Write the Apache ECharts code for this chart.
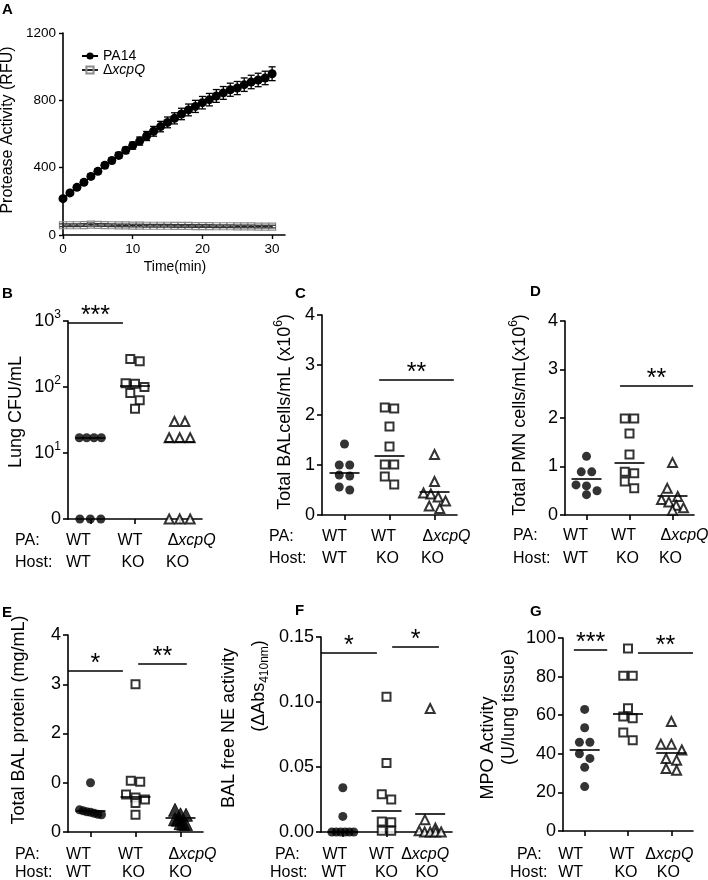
<!DOCTYPE html>
<html>
<head>
<meta charset="utf-8">
<script src="https://cdn.jsdelivr.net/npm/echarts@6.0.0/dist/echarts.min.js"></script>
<style>
html, body { margin: 0; padding: 0; background: #fff; }
#main { width: 708px; height: 880px; }
</style>
</head>
<body>
<div id="main"></div>
<script>
// ---- A: protease activity over time ----
var timeMin = [0, 1, 2, 3, 4, 5, 6, 7, 8, 9, 10, 11, 12, 13, 14, 15, 16, 17, 18, 19, 20, 21, 22, 23, 24, 25, 26, 27, 28, 29, 30];
var pa14 = [216, 250, 283, 313, 348, 378, 414, 442, 473, 503, 531, 558, 588, 616, 644, 669, 693, 719, 743, 764, 786, 804, 826, 844, 863, 873, 893, 909, 921, 933, 958];
var pa14Err = [10, 11, 12, 13, 14, 15, 16, 17, 18, 19, 21, 24, 27, 29, 31, 32, 33, 34, 35, 36, 37, 37, 38, 38, 39, 39, 40, 40, 40, 40, 41];
var xcpQ = [58, 58, 58, 59, 62, 60, 59, 58, 57, 57, 56, 56, 55, 55, 55, 55, 54, 54, 54, 53, 53, 53, 52, 52, 52, 51, 51, 51, 50, 50, 50];
var xcpQErr = [8, 8, 8, 8, 9, 8, 8, 8, 8, 8, 8, 8, 8, 8, 8, 8, 8, 8, 8, 8, 8, 8, 8, 8, 8, 8, 8, 8, 8, 8, 8];
var aTicksX = [0, 10, 20, 30];

// ---- groups (B-G) ----
var paLabels = ['WT', 'WT', 'ΔxcpQ'];
var hostLabels = ['WT', 'KO', 'KO'];

// B: lung CFU/mL (0 is plotted on the bottom line)
var bWT = [17, 17, 17, 17, 0, 0, 0];
var bKO = [265, 245, 114, 112, 100, 81, 63, 47];
var bXcpQ = [30, 30, 17, 17, 17, 0, 0, 0];
var bMedian = [17, 103, 15];
var bSig = [[0.5, 1.73, 933, '***'], [2.54, 3.75, 840, '***']];

// C: total BAL cells (x10^6/mL)
var cWT = [1.42, 1.0, 1.0, 0.8, 0.78, 0.56, 0.5];
var cKO = [2.15, 2.13, 1.77, 1.37, 1.01, 1.01, 0.77, 0.61];
var cXcpQ = [1.21, 0.67, 0.44, 0.42, 0.36, 0.28, 0.18, 0.13];
var cMedian = [0.85, 1.19, 0.47];
var cSig = [[1.77, 3.43, 2.7, '**']];

// D: total PMN cells (x10^6/mL)
var dWT = [1.21, 0.89, 0.89, 0.62, 0.6, 0.5, 0.42];
var dKO = [1.99, 1.99, 1.68, 1.25, 0.89, 0.86, 0.69, 0.55];
var dXcpQ = [1.08, 0.55, 0.38, 0.32, 0.27, 0.2, 0.15, 0.1];
var dMedian = [0.75, 1.08, 0.39];
var dSig = [[1.78, 3.48, 2.67, '**']];

// E: total BAL protein (mg/mL)
var eWT = [1.0, 0.45, 0.43, 0.41, 0.4, 0.38, 0.36, 0.35];
var eKO = [3.0, 1.04, 1.02, 0.76, 0.7, 0.66, 0.59, 0.35];
var eXcpQ = [0.45, 0.36, 0.35, 0.26, 0.25, 0.18, 0.17, 0.16];
var eMedian = [0.44, 0.71, 0.29];
var eSig = [[0.5, 1.72, 3.27, '*'], [2.06, 3.14, 3.41, '**']];

// F: BAL free NE activity (dAbs 410nm)
var fWT = [0.034, 0.012, 0, 0, 0, 0, 0, 0];
var fKO = [0.104, 0.053, 0.029, 0.025, 0.008, 0.0075, 0.001, 0.001];
var fXcpQ = [0.095, 0.0095, 0.003, 0.001, 0, 0, 0, 0];
var fMedian = [0.0005, 0.016, 0.0138];
var fSig = [[0.5, 1.78, 0.1377, '*'], [2.13, 3.2, 0.1423, '*']];

// G: MPO activity (U/lung tissue)
var gWT = [63, 53.5, 46, 46, 40, 37.6, 33, 23];
var gKO = [94.6, 80.4, 80.4, 63.6, 59.3, 58.4, 51, 47];
var gXcpQ = [56.7, 45, 45, 42, 37.6, 36.7, 32.4, 31.5];
var gMedian = [42.3, 60.7, 40.6];
var gSig = [[0.75, 1.52, 93.9, '***'], [2.23, 3.5, 92.4, '**']];

var FONT = '"Liberation Sans", Arial, Helvetica, sans-serif';
var BLACK = '#000';

var panels = [
    { letter: 'B', lx: 2, ly: 294, grid: { left: 68, top: 321, width: 134, height: 198 }, log: true, min: 1, max: 1000,
      groups: [bWT, bKO, bXcpQ], median: bMedian, sig: bSig,
      title: '{t|Lung CFU/mL}', tx: 16, ty: 412,
      paX: 15, hostX: 15, rowY: [541, 563],
      paShift: [-12, -5, 12], hostShift: [-12, -2, -2] },
    { letter: 'C', lx: 295, ly: 294, grid: { left: 322, top: 315, width: 135, height: 200 }, min: 0, max: 4, interval: 1,
      groups: [cWT, cKO, cXcpQ], median: cMedian, sig: cSig,
      title: '{t|Total BALcells/mL (x10}{s|6}{t|)}', tx: 285, ty: 412,
      paX: 269, hostX: 269, rowY: [537, 559],
      paShift: [-10, -6, 12], hostShift: [-10, -2, -2] },
    { letter: 'D', lx: 530, ly: 292, grid: { left: 565, top: 321, width: 129, height: 194 }, min: 0, max: 4, interval: 1,
      groups: [dWT, dKO, dXcpQ], median: dMedian, sig: dSig,
      title: '{t|Total PMN cells/mL(x10}{s|6}{t|)}', tx: 520, ty: 415,
      paX: 513, hostX: 513, rowY: [536, 559],
      paShift: [-11, -6, 12], hostShift: [-11, -2, -2] },
    { letter: 'E', lx: 2, ly: 613, grid: { left: 68, top: 635, width: 135, height: 197 }, min: 0, max: 4, interval: 1,
      groups: [eWT, eKO, eXcpQ], median: eMedian, sig: eSig, filledTri: true,
      labelFmt: function (v) { return v === 1 ? '0' : String(v); },
      title: '{t|Total BAL protein (mg/mL)}', tx: 19, ty: 720,
      paX: 15, hostX: 15, rowY: [855, 873],
      paShift: [-12, -5, 12], hostShift: [-12, -2, 0] },
    { letter: 'F', lx: 295, ly: 611, grid: { left: 321, top: 637, width: 131, height: 195 }, min: 0, max: 0.15, interval: 0.05,
      groups: [fWT, fKO, fXcpQ], median: fMedian, sig: fSig,
      labelFmt: function (v) { return v.toFixed(2); },
      title: '{t|BAL free NE activity}', tx: 229, ty: 728,
      title2: '{t|(ΔAbs}{b|410nm}{t|)}', tx2: 259, ty2: 686,
      paX: 275, hostX: 270, rowY: [855, 873],
      paShift: [-8, -5, -5], hostShift: [-9, 0, -3] },
    { letter: 'G', lx: 530, ly: 612, grid: { left: 563, top: 638, width: 130, height: 193 }, min: 0, max: 100, interval: 20,
      groups: [gWT, gKO, gXcpQ], median: gMedian, sig: gSig,
      title: '{t|MPO Activity}', tx: 488, ty: 748,
      title2: '{t|(U/lung tissue)}', tx2: 509, ty2: 707,
      paX: 517, hostX: 510, rowY: [855, 873],
      paShift: [-14, -6, -2], hostShift: [-14, -2, -3] }
];

var titleRich = {
    t: { fontSize: 18, fontFamily: FONT, color: BLACK },
    s: { fontSize: 12, fontFamily: FONT, color: BLACK, padding: [0, 0, 12, 0] },
    b: { fontSize: 12, fontFamily: FONT, color: BLACK, padding: [12, 0, 0, 0] }
};
var catRichStyle = {
    n: { fontSize: 16, fontFamily: FONT, color: BLACK },
    i: { fontSize: 16, fontFamily: FONT, color: BLACK, fontStyle: 'italic' }
};

function yPx(p, v) {
    if (p.log) {
        v = Math.max(v, p.min);
        return (Math.log10(v) - Math.log10(p.min)) / (Math.log10(p.max) - Math.log10(p.min)) * p.grid.height;
    }
    return (v - p.min) / (p.max - p.min) * p.grid.height;
}

// GraphPad-like rows: points close in y are spread side by side
function swarm(p, vals, d, maxW) {
    var order = vals.map(function (v, i) { return i; }).sort(function (a, b) { return vals[b] - vals[a]; });
    var off = vals.map(function () { return 0; });
    var row = [];
    function flush() {
        var step = row.length > 1 ? Math.min(d * 1.05, maxW / (row.length - 1)) : 0;
        row.forEach(function (k, j) { off[k] = (j - (row.length - 1) / 2) * step; });
        row = [];
    }
    order.forEach(function (k) {
        if (row.length && Math.abs(yPx(p, vals[row[0]]) - yPx(p, vals[k])) >= d * 0.9) flush();
        row.push(k);
    });
    flush();
    var unit = p.grid.width / 3;
    return off.map(function (o) { return o / unit; });
}

function catText(s) {
    if (s.charAt(0) === 'Δ') return '{n|Δ}{i|' + s.slice(1) + '}';
    return '{n|' + s + '}';
}

var grids = [], xAxes = [], yAxes = [], series = [], graphics = [];
var axisLine = { show: true, onZero: false, lineStyle: { color: BLACK, width: 1.6 } };

// ---- panel A ----
grids.push({ left: 63, top: 33, width: 222, height: 202 });
xAxes.push({
    gridIndex: 0, type: 'value', min: 0, max: 31.85,
    axisLine: axisLine,
    axisTick: { show: true, customValues: aTicksX, length: 4, lineStyle: { color: BLACK, width: 1.4 } },
    axisLabel: { customValues: aTicksX, margin: 7, fontSize: 13.5, fontFamily: FONT, color: BLACK },
    splitLine: { show: false }
});
yAxes.push({
    gridIndex: 0, type: 'value', min: 0, max: 1200, interval: 400,
    axisLine: axisLine,
    axisTick: { show: true, length: 4, lineStyle: { color: BLACK, width: 1.4 } },
    axisLabel: { margin: 7, fontSize: 13.5, fontFamily: FONT, color: BLACK, formatter: function (v) { return String(v); } },
    splitLine: { show: false }
});

function errRender(color) {
    return function (params, api) {
        var x = api.value(0), y = api.value(1), e = api.value(2);
        var hi = api.coord([x, y + e]), lo = api.coord([x, y - e]);
        var w = 3.5, st = { stroke: color, lineWidth: 1.3 };
        return { type: 'group', children: [
            { type: 'line', shape: { x1: hi[0], y1: hi[1], x2: lo[0], y2: lo[1] }, style: st },
            { type: 'line', shape: { x1: hi[0] - w, y1: hi[1], x2: hi[0] + w, y2: hi[1] }, style: st },
            { type: 'line', shape: { x1: lo[0] - w, y1: lo[1], x2: lo[0] + w, y2: lo[1] }, style: st }
        ] };
    };
}

series.push({
    type: 'custom', name: 'pa14err', xAxisIndex: 0, yAxisIndex: 0, z: 1,
    renderItem: errRender('#000'), encode: { x: 0, y: 1 },
    data: timeMin.map(function (t, i) { return [t, pa14[i], pa14Err[i]]; })
});
series.push({
    type: 'line', name: 'PA14', xAxisIndex: 0, yAxisIndex: 0, z: 3,
    symbol: 'circle', symbolSize: 9, showSymbol: true,
    itemStyle: { color: BLACK },
    lineStyle: { color: BLACK, width: 1.4 },
    data: timeMin.map(function (t, i) { return [t, pa14[i]]; })
});
series.push({
    type: 'line', name: 'ΔxcpQ', xAxisIndex: 0, yAxisIndex: 0, z: 3,
    symbol: 'rect', symbolSize: 7, showSymbol: true,
    itemStyle: { color: 'rgba(255,255,255,0)', borderColor: '#8c8c8c', borderWidth: 1.2 },
    lineStyle: { color: '#222', width: 1.1 },
    data: timeMin.map(function (t, i) { return [t, xcpQ[i]]; })
});
series.push({
    type: 'custom', name: 'xcpQerr', xAxisIndex: 0, yAxisIndex: 0, z: 4,
    renderItem: errRender('#333'), encode: { x: 0, y: 1 },
    data: timeMin.map(function (t, i) { return [t, xcpQ[i], xcpQErr[i]]; })
});

graphics.push({ type: 'text', x: 2, y: 10, style: { text: 'A', fontSize: 15, fontWeight: 'bold', fontFamily: FONT, fill: BLACK, verticalAlign: 'middle' } });
graphics.push({ type: 'text', x: 8, y: 130, rotation: Math.PI / 2, style: { text: 'Protease Activity (RFU)', fontSize: 16, fontFamily: FONT, fill: BLACK, align: 'center', verticalAlign: 'middle' } });
graphics.push({ type: 'text', x: 175, y: 267, style: { text: 'Time(min)', fontSize: 14, fontFamily: FONT, fill: BLACK, align: 'center', verticalAlign: 'middle' } });

// ---- panels B-G ----
var markers = [
    { symbol: 'circle', size: 9, itemStyle: { color: BLACK } },
    { symbol: 'rect', size: 8, itemStyle: { color: '#fff', borderColor: BLACK, borderWidth: 2 } },
    { symbol: 'triangle', size: 9, itemStyle: { color: '#fff', borderColor: BLACK, borderWidth: 2 } }
];

panels.forEach(function (p, k) {
    var gi = k + 1;
    grids.push(p.grid);
    xAxes.push({
        gridIndex: gi, type: 'value', min: 0.5, max: 3.5,
        axisLine: axisLine,
        axisTick: { show: true, customValues: [1, 2, 3], length: 5, lineStyle: { color: BLACK, width: 1.6 } },
        axisLabel: { show: false },
        splitLine: { show: false }
    });
    var ya = {
        gridIndex: gi, type: p.log ? 'log' : 'value', min: p.min, max: p.max,
        axisLine: axisLine,
        axisTick: { show: true, length: 5, lineStyle: { color: BLACK, width: 1.6 } },
        axisLabel: { margin: 7, fontSize: 18, fontFamily: FONT, color: BLACK },
        splitLine: { show: false }, minorTick: { show: false }
    };
    if (p.log) {
        ya.logBase = 10;
        ya.axisLabel.formatter = function (v) {
            if (v <= 1) return '{b|0}';
            return '{b|10}{s|' + Math.round(Math.log10(v)) + '}';
        };
        ya.axisLabel.rich = {
            b: { fontSize: 18, fontFamily: FONT, color: BLACK },
            s: { fontSize: 12, fontFamily: FONT, color: BLACK, padding: [0, 0, 12, 0] }
        };
    } else {
        ya.interval = p.interval;
        if (p.labelFmt) ya.axisLabel.formatter = p.labelFmt;
    }
    yAxes.push(ya);

    var half = 15 / (p.grid.width / 3);
    p.groups.forEach(function (vals, c) {
        var m = markers[c];
        var size = m.size, itemStyle = m.itemStyle, maxW = 22, d = m.size + 1;
        if (c === 2 && p.filledTri) {
            size = 13; maxW = 11; d = 8;
            itemStyle = { color: BLACK, borderColor: BLACK, borderWidth: 1 };
        }
        var off = swarm(p, vals, d, maxW);
        var mlData = [[{ coord: [c + 1 - half, p.median[c]] }, { coord: [c + 1 + half, p.median[c]] }]];
        if (c === 0) {
            p.sig.forEach(function (s) {
                mlData.push([{
                    coord: [s[0], s[2]],
                    label: { show: true, formatter: s[3], position: 'insideMiddleTop', distance: -6,
                             fontSize: 25, fontFamily: FONT, color: BLACK }
                }, { coord: [s[1], s[2]] }]);
            });
        }
        series.push({
            type: 'scatter', xAxisIndex: gi, yAxisIndex: gi, clip: false, z: 3,
            symbol: m.symbol, symbolSize: size, itemStyle: itemStyle,
            data: vals.map(function (v, i) { return [c + 1 + off[i], p.log ? Math.max(v, p.min) : v]; }),
            markLine: {
                silent: true, symbol: ['none', 'none'], animation: false,
                lineStyle: { color: BLACK, width: 1.6, type: 'solid' },
                label: { show: false },
                emphasis: { disabled: true },
                data: mlData
            }
        });
    });

    graphics.push({ type: 'text', x: p.lx, y: p.ly, style: { text: p.letter, fontSize: 15, fontWeight: 'bold', fontFamily: FONT, fill: BLACK, verticalAlign: 'middle' } });
    graphics.push({ type: 'text', x: p.tx, y: p.ty, rotation: Math.PI / 2, style: { text: p.title, rich: titleRich, fontSize: 18, fontFamily: FONT, fill: BLACK, align: 'center', verticalAlign: 'middle' } });
    if (p.title2) {
        graphics.push({ type: 'text', x: p.tx2, y: p.ty2, rotation: Math.PI / 2, style: { text: p.title2, rich: titleRich, fontSize: 18, fontFamily: FONT, fill: BLACK, align: 'center', verticalAlign: 'middle' } });
    }
    graphics.push({ type: 'text', x: p.paX, y: p.rowY[0], style: { text: 'PA:', fontSize: 16, fontFamily: FONT, fill: BLACK, verticalAlign: 'middle' } });
    graphics.push({ type: 'text', x: p.hostX, y: p.rowY[1], style: { text: 'Host:', fontSize: 16, fontFamily: FONT, fill: BLACK, verticalAlign: 'middle' } });
});

var myChart = echarts.init(document.getElementById('main'));
var option = {
    animation: false,
    backgroundColor: '#fff',
    textStyle: { fontFamily: FONT },
    grid: grids,
    xAxis: xAxes,
    yAxis: yAxes,
    legend: {
        data: ['PA14', 'ΔxcpQ'], orient: 'vertical', left: 76, top: 44,
        itemWidth: 16, itemHeight: 9, itemGap: 0, selectedMode: false,
        textStyle: {
            fontSize: 14, fontFamily: FONT, color: BLACK, lineHeight: 13,
            rich: {
                n: { fontSize: 14, fontFamily: FONT, color: BLACK },
                i: { fontSize: 14, fontFamily: FONT, color: BLACK, fontStyle: 'italic' }
            }
        },
        formatter: function (name) { return name === 'PA14' ? 'PA14' : '{n|Δ}{i|xcpQ}'; }
    },
    graphic: graphics,
    series: series
};
myChart.setOption(option);

// group labels under each category tick, placed through the axis scale
var catGraphics = [];
panels.forEach(function (p, k) {
    var gi = k + 1;
    for (var c = 0; c < 3; c++) {
        var px = myChart.convertToPixel({ gridIndex: gi }, [c + 1, p.min])[0];
        catGraphics.push({ type: 'text', x: px + p.paShift[c], y: p.rowY[0],
            style: { text: catText(paLabels[c]), rich: catRichStyle, fontSize: 16, fontFamily: FONT, fill: BLACK, align: 'center', verticalAlign: 'middle' } });
        catGraphics.push({ type: 'text', x: px + p.hostShift[c], y: p.rowY[1],
            style: { text: catText(hostLabels[c]), rich: catRichStyle, fontSize: 16, fontFamily: FONT, fill: BLACK, align: 'center', verticalAlign: 'middle' } });
    }
});
myChart.setOption({ graphic: graphics.concat(catGraphics) });
</script>
</body>
</html>
